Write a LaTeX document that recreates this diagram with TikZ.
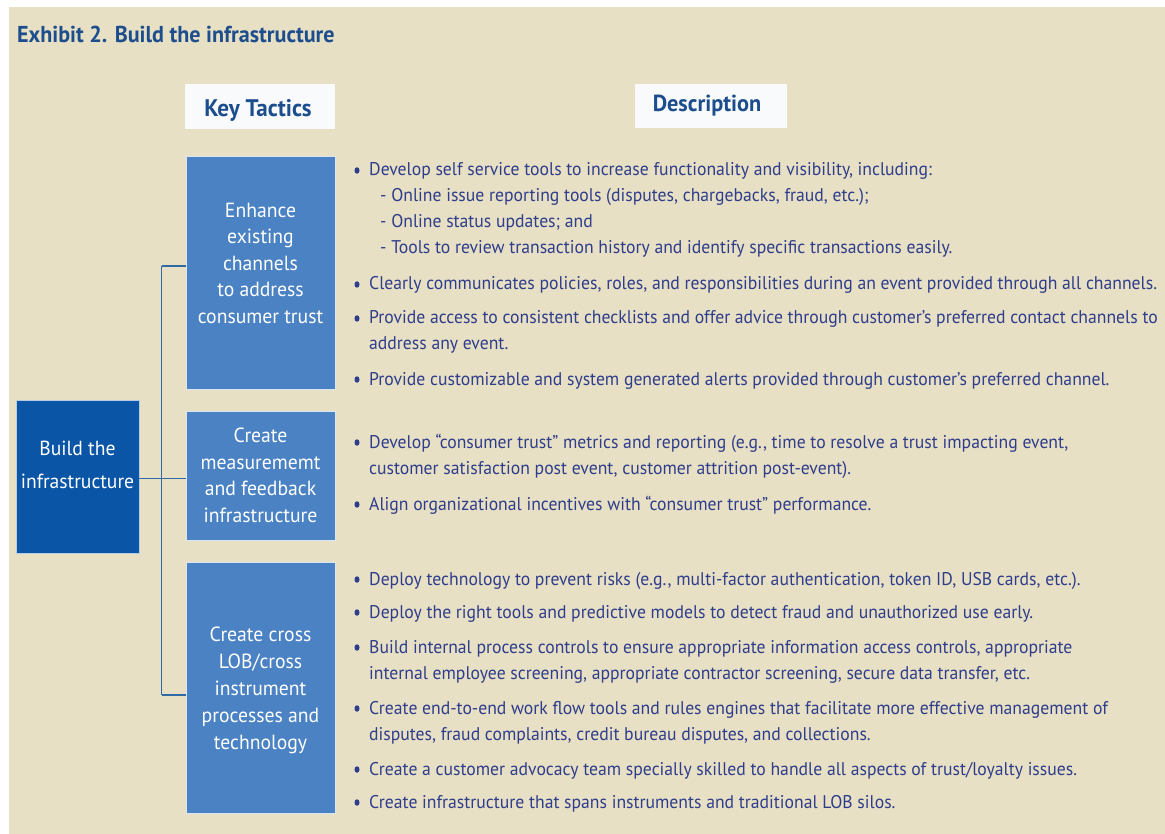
\documentclass[tikz,border=0pt]{standalone}
\usepackage{fontspec}
\setmainfont{PT Sans}[FakeStretch=0.96]
\definecolor{bg}{HTML}{E8E0C4}
\definecolor{midblue}{HTML}{4A82C4}
\definecolor{darkblue}{HTML}{0A55A6}
\definecolor{navy}{HTML}{2E3D8C}
\definecolor{titleblue}{HTML}{1C4E8E}
\definecolor{linkblue}{HTML}{2F6AA6}
\definecolor{hdrwhite}{HTML}{F8FAFB}
\usetikzlibrary{shapes.geometric}
\tikzset{
  tactic/.style={fill=midblue, draw=white!80!midblue, line width=0.8pt, text=white,
    font=\fontsize{20.5}{26.5}\selectfont, align=center, inner sep=0pt, minimum width=149pt},
  rootbox/.style={fill=darkblue, draw=white!70!darkblue, line width=0.8pt,
    inner sep=0pt, minimum width=123pt, minimum height=153pt},
  boxtext/.style={text=white, align=center, inner sep=0pt},
  header/.style={fill=hdrwhite, inner sep=0pt},
  hdrtext/.style={text=titleblue, inner sep=0pt},
  btext/.style={anchor=base west, align=left, inner sep=0pt, text=navy, font=\fontsize{18.4}{26}\selectfont},
  bdot/.style={ellipse, fill=navy, inner sep=0pt, minimum width=5pt, minimum height=6.5pt},
  link/.style={draw=linkblue, line width=1.2pt}
}
% name, baseline of first line, number of lines, text
\newcommand\bitem[4]{%
  \node[bdot] (#1d) at (357,#2-5.5) {};
  \node[btext] (#1) at (369,#2+26*#3-26) {#4};}
\begin{document}
\begin{tikzpicture}[x=1pt,y=-1pt]
\useasboundingbox (0,0) rectangle (1165,834);
\fill[white] (0,0) rectangle (1165,834);
\fill[bg] (9,7) rectangle (1165,834);

\node[anchor=base west, inner sep=0pt, text=titleblue, font=\bfseries\fontsize{23}{26}\selectfont] (title) at (17,43) {Exhibit 2. Build the infrastructure};

\node[header, minimum width=150pt, minimum height=45pt] (hk) at (260,106.5) {};
\node[hdrtext, font=\bfseries\fontsize{24}{26}\selectfont] (hkt) at (258,110) {Key Tactics};
\node[header, minimum width=152pt, minimum height=44pt] (hd) at (711,106) {};
\node[hdrtext, font=\bfseries\fontsize{23.2}{26}\selectfont] (hdt) at (707,106) {Description};

\node[rootbox] (root) at (77.5,476.5) {};
\node[boxtext, font=\fontsize{20.4}{33}\selectfont] (roott) at (77.5,465) {Build the\\infrastructure};
\node[tactic, minimum height=233pt] (b1) at (260.5,272.5) {};
\node[boxtext, font=\fontsize{20.5}{26.5}\selectfont] (b1t) at (260.5,263) {Enhance\\existing\\channels\\to address\\consumer trust};
\node[tactic, minimum height=129pt] (b2) at (260.5,475.5) {Create\\measurememt\\and feedback\\infrastructure};
\node[tactic, minimum height=251pt] (b3) at (260.5,687.5) {};
\node[boxtext, font=\fontsize{20.5}{27}\selectfont] (b3t) at (260.5,690) {Create cross\\LOB/cross\\instrument\\processes and\\technology};

\coordinate (j1) at (161.5,266);
\coordinate (j3) at (161.5,695);
\draw[link] (j1) -- (j3);
\draw[link] (j1) -- (j1 -| b1.west);
\draw[link] (j3) -- (j3 -| b3.west);
\draw[link] (root.east |- 0,478.5) -- (b2.west |- 0,478.5);

\bitem{a1}{176}{4}{Develop self service tools to increase functionality and visibility, including:\\
\hspace*{11pt}- Online issue reporting tools (disputes, chargebacks, fraud, etc.);\\
\hspace*{11pt}- Online status updates; and\\
\hspace*{11pt}- Tools to review transaction history and identify specific transactions easily.}
\bitem{a2}{290}{1}{Clearly communicates policies, roles, and responsibilities during an event provided through all channels.}
\bitem{a3}{324}{2}{Provide access to consistent checklists and offer advice through customer’s preferred contact channels to\\address any event.}
\bitem{a4}{385}{1}{Provide customizable and system generated alerts provided through customer’s preferred channel.}

\bitem{c1}{448}{2}{Develop “consumer trust” metrics and reporting (e.g., time to resolve a trust impacting event,\\customer satisfaction post event, customer attrition post-event).}
\bitem{c2}{510}{1}{Align organizational incentives with “consumer trust” performance.}

\bitem{e1}{585}{1}{Deploy technology to prevent risks (e.g., multi-factor authentication, token ID, USB cards, etc.).}
\bitem{e2}{618}{1}{Deploy the right tools and predictive models to detect fraud and unauthorized use early.}
\bitem{e3}{653}{2}{Build internal process controls to ensure appropriate information access controls, appropriate\\internal employee screening, appropriate contractor screening, secure data transfer, etc.}
\bitem{e4}{714}{2}{Create end-to-end work flow tools and rules engines that facilitate more effective management of\\disputes, fraud complaints, credit bureau disputes, and collections.}
\bitem{e5}{775}{1}{Create a customer advocacy team specially skilled to handle all aspects of trust/loyalty issues.}
\bitem{e6}{808}{1}{Create infrastructure that spans instruments and traditional LOB silos.}
\end{tikzpicture}
\end{document}
